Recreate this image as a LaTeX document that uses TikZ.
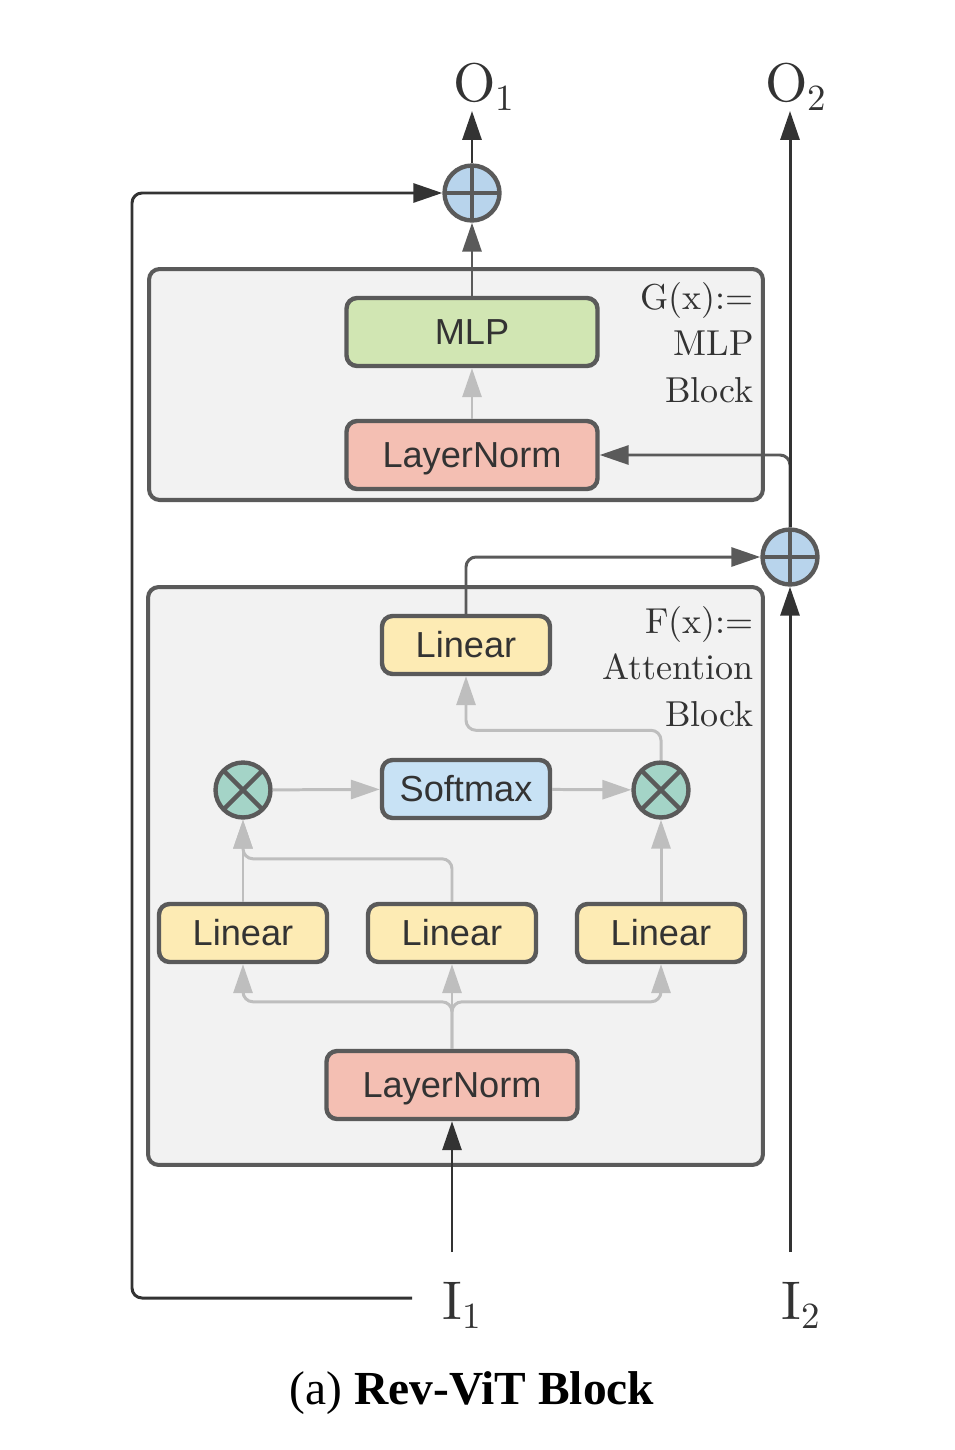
\documentclass[tikz,border=0pt]{standalone}
\usepackage{fontspec}
\newfontfamily\boxfont{Liberation Sans}
\newfontfamily\capfont{Liberation Serif}
\newfontfamily\labelfont{lmroman10-regular}[Extension=.otf]
\definecolor{edgegray}{RGB}{90, 90, 90}
\definecolor{darkline}{RGB}{51, 51, 51}
\definecolor{lightline}{RGB}{190, 190, 190}
\definecolor{blockgray}{RGB}{242, 242, 242}
\definecolor{mlpgreen}{RGB}{209, 230, 179}
\definecolor{normpink}{RGB}{244, 191, 179}
\definecolor{linyellow}{RGB}{253, 235, 180}
\definecolor{softblue}{RGB}{200, 226, 245}
\definecolor{addblue}{RGB}{184, 212, 236}
\definecolor{multeal}{RGB}{164, 212, 199}
\definecolor{textdark}{RGB}{51, 51, 51}
\usetikzlibrary{arrows.meta, calc}

\newcommand{\iolabel}[2]{#1\raisebox{-5pt}{\fontsize{21}{24}\selectfont #2}}

\tikzset{
  block/.style={draw=edgegray, fill=blockgray, line width=2.3pt, rounded corners=6pt},
  blockname/.style={align=right, inner sep=0pt, anchor=north east, text=textdark, font=\labelfont\fontsize{20.5}{26.4}\selectfont},
  layer/.style={draw=edgegray, line width=2.5pt, rounded corners=6pt, inner sep=0pt, text=textdark,
    text height=14.3pt, text depth=0pt, font=\boxfont\fontsize{20.6}{24}\selectfont},
  wide/.style={layer, minimum width=5.02cm, minimum height=1.36cm},
  narrow/.style={layer, minimum width=3.36cm, minimum height=1.16cm},
  addop/.style={circle, draw=edgegray, fill=addblue, line width=2.5pt, minimum size=1.1cm, inner sep=0pt,
    path picture={\draw[edgegray, line width=2.5pt] (path picture bounding box.north) -- (path picture bounding box.south)
      (path picture bounding box.west) -- (path picture bounding box.east);}},
  mulop/.style={circle, draw=edgegray, fill=multeal, line width=2.5pt, minimum size=1.1cm, inner sep=0pt,
    path picture={\draw[edgegray, line width=2.5pt] (path picture bounding box.south west) -- (path picture bounding box.north east)
      (path picture bounding box.north west) -- (path picture bounding box.south east);}},
  ioname/.style={inner sep=0pt, text=textdark, font=\labelfont\fontsize{31}{36}\selectfont},
  headed/.style={-{Triangle[length=0.58cm, width=0.38cm]}},
  mainflow/.style={headed, draw=darkline, line width=1.7pt},
  subflow/.style={headed, draw=edgegray, line width=1.7pt, rounded corners=0.2cm},
  innerflow/.style={headed, draw=lightline, line width=1.7pt, rounded corners=0.2cm},
}

\begin{document}
\begin{tikzpicture}[x=0.02cm, y=-0.02cm]
  \useasboundingbox (0,0) rectangle (954,1450);

  % G(x): MLP block
  \node[block, minimum width=12.28cm, minimum height=4.62cm] (gbox) at (456,384.5) {};
  \node[blockname] (gname) at (754,282) {G(x):=\\MLP\\Block};
  \node[wide, fill=mlpgreen] (mlp) at (472,332) {MLP};
  \node[wide, fill=normpink] (lnG) at (472,455) {LayerNorm};

  % F(x): attention block
  \node[block, minimum width=12.3cm, minimum height=11.56cm] (fbox) at (455.5,876) {};
  \node[blockname] (fname) at (754,606) {F(x):=\\Attention\\Block};
  \node[narrow, fill=linyellow] (linO) at (466,645) {Linear};
  \node[narrow, fill=softblue] (soft) at (466,789) {Softmax};
  \node[mulop] (mulA) at (243,790) {};
  \node[mulop] (mulB) at (661,790) {};
  \node[narrow, fill=linyellow] (linQ) at (243,933) {Linear};
  \node[narrow, fill=linyellow] (linK) at (452,933) {Linear};
  \node[narrow, fill=linyellow] (linV) at (661,933) {Linear};
  \node[wide, fill=normpink] (lnF) at (452,1085) {LayerNorm};

  % residual adds
  \node[addop] (addA) at (472,193) {};
  \node[addop] (addB) at (790,557) {};

  % inputs and outputs
  \node[ioname] (outA) at (484,87) {\iolabel{O}{1}};
  \node[ioname] (outB) at (796,87) {\iolabel{O}{2}};
  \node[ioname] (inA) at (462,1305) {\iolabel{I}{1}};
  \node[ioname] (inB) at (801,1305) {\iolabel{I}{2}};
  \coordinate (srcA) at (452,1252);
  \coordinate (srcB) at (790,1252);
  \coordinate (skipA) at (412,1298);

  \node[font=\capfont\fontsize{27}{30}\selectfont] (caption) at (472,1393) {(a) \textbf{Rev-ViT Block}};

  % attention internals
  \draw[innerflow] (lnF) -- (linK);
  \draw[innerflow] (lnF.north) -- ++(0,-47) -| (linQ);
  \draw[innerflow] (lnF.north) -- ++(0,-47) -| (linV);
  \draw[innerflow] (linQ) -- (mulA);
  \draw[innerflow] (linK.north) -- ++(0,-43) -| (mulA);
  \draw[innerflow] (linV) -- (mulB);
  \draw[innerflow] (mulA) -- (soft);
  \draw[innerflow] (soft) -- (mulB);
  \draw[innerflow] (mulB.north) -- ++(0,-30) -| (linO);
  \draw[innerflow] (lnG) -- (mlp);

  % block outputs
  \draw[subflow] (mlp) -- (addA);
  \draw[subflow] (linO.north) |- (addB);
  \draw[subflow] (addB.north) |- (lnG);

  % two streams
  \draw[mainflow] (srcA) -- (lnF);
  \draw[mainflow] (srcB) -- (addB);
  \draw[mainflow] (addA) -- (addA |- outA.south);
  \draw[mainflow] (addB) -- (addB |- outB.south);
  \draw[mainflow, rounded corners=0.2cm] (skipA) -- ++(-280,0) |- (addA);
\end{tikzpicture}
\end{document}
